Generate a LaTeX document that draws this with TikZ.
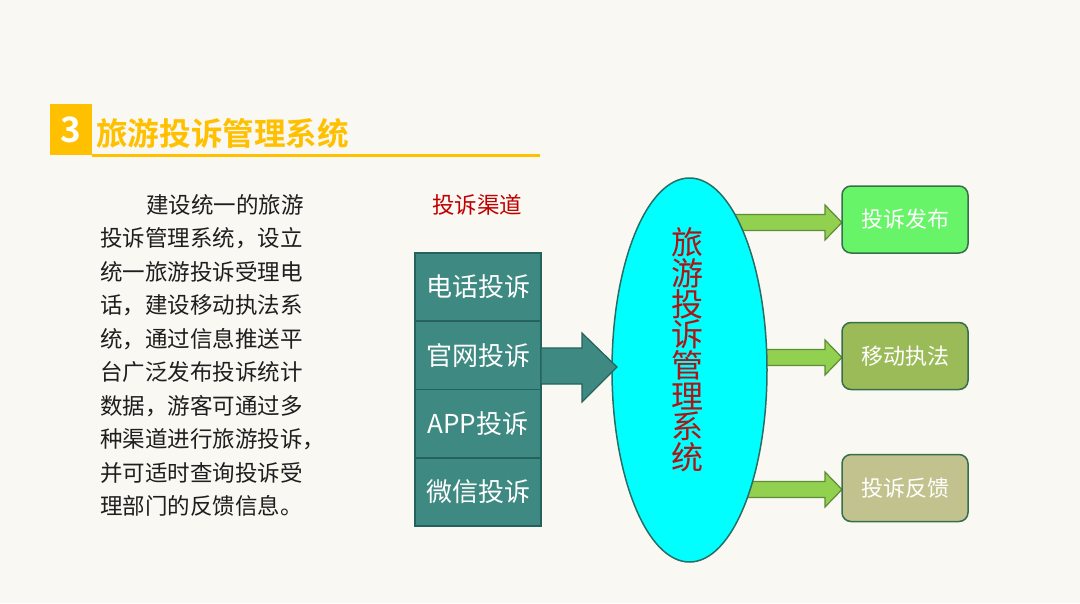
\documentclass[tikz,border=0pt]{standalone}
\usepackage{fontspec}
\newfontfamily\cjk{Noto Sans CJK SC}[BoldFont={Noto Sans CJK SC Bold}]
\usetikzlibrary{shapes.geometric}
\definecolor{bg}{RGB}{250,248,243}
\definecolor{gold}{RGB}{255,192,0}
\definecolor{txt}{RGB}{30,30,30}
\definecolor{chred}{RGB}{192,0,0}
\definecolor{dred}{RGB}{175,20,20}
\definecolor{tealfill}{RGB}{62,138,130}
\definecolor{tealline}{RGB}{38,98,92}
\definecolor{cyanfill}{RGB}{0,255,255}
\definecolor{ellline}{RGB}{40,110,100}
\definecolor{garrow}{RGB}{146,208,80}
\definecolor{garrowline}{RGB}{95,140,55}
\definecolor{boxA}{RGB}{104,244,104}
\definecolor{boxB}{RGB}{155,187,89}
\definecolor{boxC}{RGB}{194,194,142}
\definecolor{boxline}{RGB}{55,110,75}
\tikzset{
  para/.style={anchor=base west, inner sep=0, text=txt, font=\cjk\fontsize{22.5}{26}\selectfont},
  colbox/.style={rectangle, draw=tealline, line width=1.5pt, fill=tealfill, minimum width=126pt, minimum height=68.25pt, inner sep=0, text=white, font=\cjk\fontsize{26}{30}\selectfont},
  outbox/.style={rectangle, rounded corners=9pt, draw=boxline, line width=1.5pt, minimum width=126pt, minimum height=67pt, inner sep=0, text=white, font=\cjk\fontsize{22}{26}\selectfont},
  bigarrow/.style={draw=tealline, line width=1.2pt, fill=tealfill, line join=miter},
  grarrow/.style={draw=garrowline, line width=1.2pt, fill=garrow, line join=miter},
}
\begin{document}
\begin{tikzpicture}[x=1pt,y=-1pt]
\fill[bg] (0,0) rectangle (1080,603);
\useasboundingbox (0,0) rectangle (1080,603);
% title
\fill[gold] (50,104) rectangle (92,155);
\node[inner sep=0, text=white, font=\cjk\bfseries\fontsize{35}{35}\selectfont] (num) at (71,130) {3};
\draw[gold, line width=3pt] (92,155) -- (540,155);
\node[anchor=west, inner sep=0, text=gold, font=\cjk\bfseries\fontsize{31.6}{32}\selectfont] (title) at (96,133) {旅游投诉管理系统};
% paragraph
\node[para] (p1) at (146,213) {建设统一的旅游};
\foreach \t [count=\i from 2] in {投诉管理系统，设立,统一旅游投诉受理电,话，建设移动执法系,统，通过信息推送平,台广泛发布投诉统计,数据，游客可通过多,种渠道进行旅游投诉，,并可适时查询投诉受,理部门的反馈信息。}
  \node[para] (p\i) at (100,{213+33.55*(\i-1)}) {\t};
% channels
\node[inner sep=0, text=chred, font=\cjk\fontsize{22.5}{26}\selectfont] (chtitle) at (477,205) {投诉渠道};
\node[colbox] (c1) at (478,287.1) {电话投诉};
\node[colbox] (c2) at (478,355.4) {官网投诉};
\node[colbox] (c3) at (478,423.6) {APP投诉};
\node[colbox] (c4) at (478,491.9) {微信投诉};
% green arrows (behind ellipse)
\draw[grarrow] (730,214.5) -- (825,214.5) -- (825,205) -- (842,222.5) -- (825,240) -- (825,230.5) -- (730,230.5) -- cycle;
\draw[grarrow] (750,349.5) -- (825,349.5) -- (825,340) -- (842,357.5) -- (825,375) -- (825,365.5) -- (750,365.5) -- cycle;
\draw[grarrow] (730,481.5) -- (825,481.5) -- (825,472) -- (842,489.5) -- (825,507) -- (825,497.5) -- (730,497.5) -- cycle;
% ellipse
\node[ellipse, draw=ellline, line width=1.5pt, fill=cyanfill, minimum width=155pt, minimum height=384pt, inner sep=0] (sys) at (689.5,370) {};
\node[align=center, inner sep=0, text=dred, font=\cjk\fontsize{32}{30.7}\selectfont] (systxt) at (687,350) {旅\\游\\投\\诉\\管\\理\\系\\统};
% big arrow
\draw[bigarrow] (541,348) -- (582,348) -- (582,333) -- (617,367) -- (582,402) -- (582,384) -- (541,384) -- cycle;
% output boxes
\node[outbox, fill=boxA] (o1) at (905,219.5) {投诉发布};
\node[outbox, fill=boxB] (o2) at (905,356) {移动执法};
\node[outbox, fill=boxC] (o3) at (905,488) {投诉反馈};
\end{tikzpicture}
\end{document}
